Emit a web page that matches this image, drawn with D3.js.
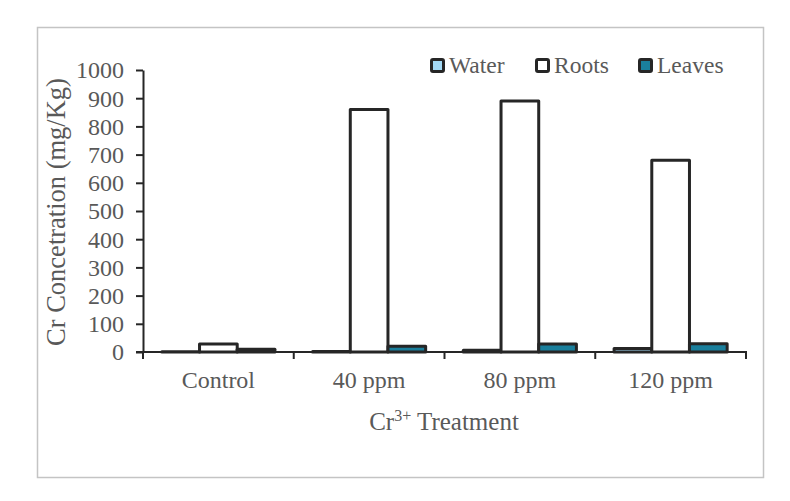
<!DOCTYPE html>
<html>
<head>
<meta charset="utf-8">
<script src="https://cdn.jsdelivr.net/npm/d3@7"></script>
<style>
  body { margin: 0; background: #fff; }
  text { font-family: "Liberation Serif", "Times New Roman", serif; fill: #595959; }
</style>
</head>
<body>
<svg id="chart" width="790" height="501"></svg>
<script>
// chart data
const categories = ['Control', '40 ppm', '80 ppm', '120 ppm'];
const seriesNames = ['Water', 'Roots', 'Leaves'];
const water = [1, 2, 6, 12];
const roots = [28, 860, 890, 680];
const leaves = [10, 20, 28, 29];
const yTicks = [0, 100, 200, 300, 400, 500, 600, 700, 800, 900, 1000];
const seriesFill = ['#a3d9f5', '#ffffff', '#1a7f9c'];

const svg = d3.select('#chart');

// outer frame
svg.append('rect')
  .attr('x', 37.5).attr('y', 27.5)
  .attr('width', 726).attr('height', 450)
  .attr('fill', 'none')
  .attr('stroke', '#c4c4c4')
  .attr('stroke-width', 1.5);

const x0 = 143, x1 = 746, yTop = 70, yBot = 352;

const x = d3.scaleBand().domain(categories).range([x0, x1]).paddingInner(0).paddingOuter(0);
const xs = d3.scaleBand().domain(seriesNames).range([0, x.bandwidth()]).paddingOuter(0.5).paddingInner(0);
const y = d3.scaleLinear().domain([0, 1000]).range([yBot, yTop]);

const rows = categories.map((c, i) => ({ cat: c, values: [water[i], roots[i], leaves[i]] }));

// bars
const groups = svg.selectAll('g.grp').data(rows).enter().append('g')
  .attr('transform', d => `translate(${x(d.cat)},0)`);

groups.selectAll('rect').data(d => d.values.map((v, k) => ({ v, k })))
  .enter().append('rect')
  .attr('x', d => xs(seriesNames[d.k]))
  .attr('y', d => y(d.v))
  .attr('width', xs.bandwidth())
  .attr('height', d => yBot - y(d.v))
  .attr('fill', d => seriesFill[d.k])
  .attr('stroke', '#262626')
  .attr('stroke-width', 3)
  .attr('stroke-linejoin', 'round');

// y axis
const yAxis = d3.axisLeft(y).tickValues(yTicks).tickFormat(d3.format('d'))
  .tickSize(7).tickPadding(12).tickSizeOuter(0);
const gy = svg.append('g').attr('transform', `translate(${x0},0)`).call(yAxis);
gy.select('.domain').attr('stroke', '#262626').attr('stroke-width', 2);
gy.selectAll('.tick line').attr('stroke', '#262626').attr('stroke-width', 2);
gy.selectAll('.tick text').attr('font-size', 24).attr('fill', '#595959')
  .attr('font-family', '"Liberation Serif", serif').attr('dy', '0.33em');

// x axis
const gx = svg.append('g').attr('transform', `translate(0,${yBot})`);
gx.append('line').attr('x1', x0 - 7).attr('x2', x1 + 1).attr('y1', 0).attr('y2', 0)
  .attr('stroke', '#262626').attr('stroke-width', 2);
const bounds = categories.map(c => x(c)).concat([x1]);
gx.selectAll('line.tk').data(bounds).enter().append('line')
  .attr('x1', d => d).attr('x2', d => d).attr('y1', 0).attr('y2', 7)
  .attr('stroke', '#262626').attr('stroke-width', 2);
gx.selectAll('text').data(categories).enter().append('text')
  .attr('x', d => x(d) + x.bandwidth() / 2)
  .attr('y', 36)
  .attr('text-anchor', 'middle')
  .attr('font-size', 24)
  .text(d => d);

// axis titles
const xt = svg.append('text')
  .attr('x', 444).attr('y', 430)
  .attr('text-anchor', 'middle')
  .attr('font-size', 25);
xt.append('tspan').text('Cr');
xt.append('tspan').attr('dy', -9).attr('font-size', 16).text('3+');
xt.append('tspan').attr('dy', 9).text(' Treatment');

svg.append('text')
  .attr('transform', `translate(65,${(yTop + yBot) / 2 + 1}) rotate(-90)`)
  .attr('text-anchor', 'middle')
  .attr('font-size', 26.5)
  .text('Cr Concetration (mg/Kg)');

// legend
const legX = [430, 535, 638];
const leg = svg.selectAll('g.leg').data(seriesNames).enter().append('g')
  .attr('transform', (d, i) => `translate(${legX[i]},58)`);
leg.append('rect')
  .attr('x', 1.5).attr('y', 1.5).attr('width', 12).attr('height', 12)
  .attr('rx', 1.5)
  .attr('fill', (d, i) => seriesFill[i])
  .attr('stroke', '#262626').attr('stroke-width', 3);
leg.append('text')
  .attr('x', 19).attr('y', 15)
  .attr('font-size', 23.5)
  .text(d => d);
</script>
</body>
</html>
